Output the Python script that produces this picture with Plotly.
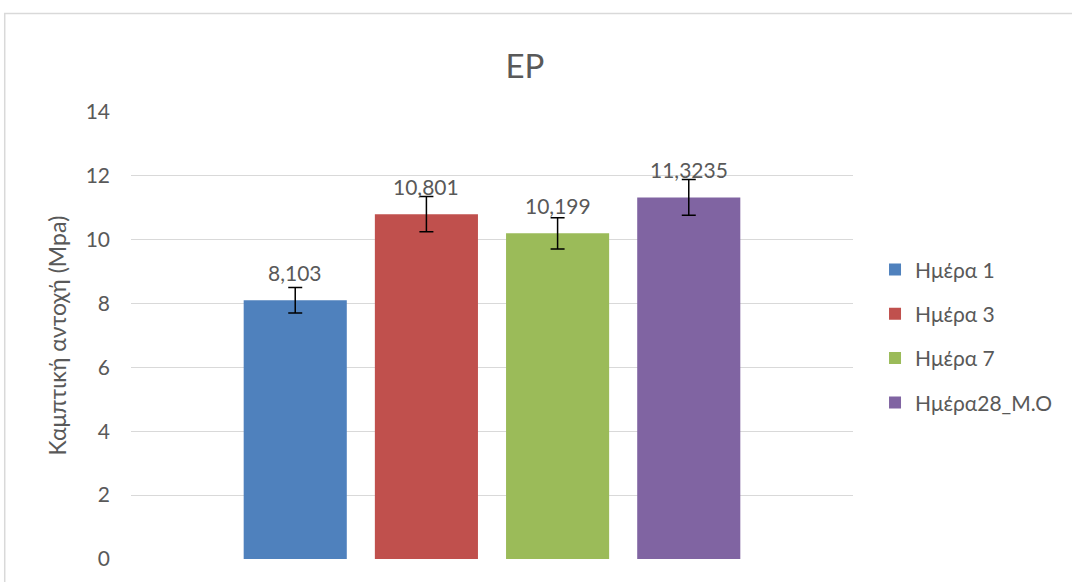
import plotly.graph_objects as go

# Flexural strength of EP specimens by curing age
series = ["Ημέρα 1", "Ημέρα 3", "Ημέρα 7", "Ημέρα28_Μ.Ο"]
strength = [8.103, 10.801, 10.199, 11.3235]
error = [0.40, 0.55, 0.49, 0.56]
colors = ["#4F81BD", "#C0504D", "#9BBB59", "#8064A2"]
y_ticks = [0, 2, 4, 6, 8, 10, 12, 14]

FONT = "Lato, 'Noto Sans', sans-serif"
TEXT = "#595959"
GRID = "#D9D9D9"

fig = go.Figure()
for name, val, err, col in zip(series, strength, error, colors):
    fig.add_trace(go.Bar(
        x=[name], y=[val], name=name, legendgroup=name,
        width=0.786,
        marker=dict(color=col, line=dict(width=0)),
        error_y=dict(type="data", array=[err], visible=True,
                     color="black", thickness=1.5, width=7),
    ))
    fig.add_annotation(
        x=name, y=val, text=f"{val:g}".replace(".", ","),
        showarrow=False, yanchor="bottom", yshift=13,
        font=dict(family=FONT, size=21, color=TEXT),
    )

# outer chart frame
fig.add_shape(type="rect", xref="paper", yref="paper",
              x0=-0.1749, x1=1.32, y0=-0.09, y1=1.2205,
              line=dict(color=GRID, width=1.5), layer="below")

fig.update_layout(
    width=1072, height=582,
    margin=dict(l=131, r=219, t=112, b=21),
    paper_bgcolor="white", plot_bgcolor="white",
    barmode="overlay",
    font=dict(family=FONT, color=TEXT),
    title=dict(text="EP", x=525 / 1072, xanchor="center",
               y=1 - 66 / 582, yanchor="middle", yref="container",
               font=dict(family=FONT, size=33, color=TEXT)),
    showlegend=True,
    legend=dict(x=1.0305, xanchor="left", y=0.6927, yanchor="top",
                font=dict(family=FONT, size=21, color=TEXT),
                tracegroupgap=14, bgcolor="rgba(0,0,0,0)"),
    xaxis=dict(type="category", categoryorder="array", categoryarray=series,
               range=[-1.252, 4.252], showticklabels=False, showgrid=False,
               zeroline=False, showline=False, ticks=""),
    yaxis=dict(range=[0, 14], tickvals=y_ticks, showgrid=True,
               gridcolor=GRID, gridwidth=1.3, zeroline=False, showline=False,
               ticks="", ticklabelstandoff=20,
               tickfont=dict(family=FONT, size=21, color=TEXT),
               title=dict(text="Καμπτική αντοχή (Mpa)", standoff=12,
                          font=dict(family=FONT, size=23, color=TEXT))),
)

fig.write_html("out.html")
